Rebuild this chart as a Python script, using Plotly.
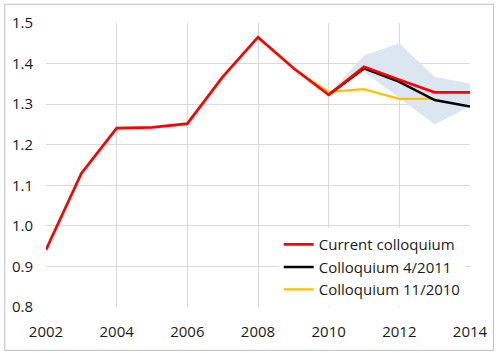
import plotly.graph_objects as go

years = list(range(2002, 2015))
current = [0.941, 1.129, 1.241, 1.243, 1.252, 1.367, 1.465, 1.389, 1.323, 1.392, 1.360, 1.329, 1.329]

years_apr11 = [2010, 2011, 2012, 2013, 2014]
apr11 = [1.323, 1.388, 1.355, 1.310, 1.294]

years_nov10 = [2009, 2010, 2011, 2012, 2013]
nov10 = [1.387, 1.330, 1.337, 1.313, 1.313]

band_years = [2010, 2011, 2012, 2013, 2014]
band_upper = [1.323, 1.420, 1.450, 1.367, 1.351]
band_lower = [1.323, 1.380, 1.315, 1.250, 1.294]

fig = go.Figure()
fig.add_trace(go.Scatter(x=band_years, y=band_lower, mode="lines", line=dict(width=0),
                         showlegend=False, hoverinfo="skip"))
fig.add_trace(go.Scatter(x=band_years, y=band_upper, mode="lines", line=dict(width=0),
                         fill="tonexty", fillcolor="#dce6f1", showlegend=False, hoverinfo="skip"))
fig.add_trace(go.Scatter(x=years_nov10, y=nov10, mode="lines", name="Colloquium 11/2010",
                         line=dict(color="#ffc000", width=2.25), legendrank=3))
fig.add_trace(go.Scatter(x=years_apr11, y=apr11, mode="lines", name="Colloquium 4/2011",
                         line=dict(color="#000000", width=2.5), legendrank=2))
fig.add_trace(go.Scatter(x=years, y=current, mode="lines", name="Current colloquium",
                         line=dict(color="#ff0000", width=2.75), legendrank=1))

W, H = 500, 353
ml, mr, mt, mb = 43, 25, 20, 45
pw, ph = W - ml - mr, H - mt - mb

fig.add_shape(type="rect", xref="paper", yref="paper",
              x0=(-ml + 1) / pw, x1=(pw + mr - 1) / pw,
              y0=(-mb + 1) / ph, y1=(ph + mt - 1) / ph,
              line=dict(color="#bfbfbf", width=1), layer="below")

fig.update_layout(
    width=W, height=H,
    margin=dict(l=ml, r=mr, t=mt, b=mb),
    paper_bgcolor="white", plot_bgcolor="white",
    font=dict(family="Open Sans, Liberation Sans, sans-serif", size=15, color="#1a1a1a"),
    xaxis=dict(range=[2002, 2014], tickvals=[2002, 2004, 2006, 2008, 2010, 2012, 2014],
               showgrid=True, gridcolor="#d9d9d9", gridwidth=1, zeroline=False,
               showline=False, ticks="", ticklabelstandoff=14),
    yaxis=dict(range=[0.8, 1.5], tickvals=[0.8, 0.9, 1.0, 1.1, 1.2, 1.3, 1.4, 1.5],
               ticktext=["0.8", "0.9", "1.0", "1.1", "1.2", "1.3", "1.4", "1.5"],
               showgrid=True, gridcolor="#d9d9d9", gridwidth=1, zeroline=False,
               showline=False, ticks="", ticklabelstandoff=12),
    legend=dict(x=0.99, y=0.003, xanchor="right", yanchor="bottom",
                bgcolor="white", borderwidth=0, font=dict(size=15),
                traceorder="normal", tracegroupgap=0, itemwidth=30),
    showlegend=True,
)

fig.write_html("out.html")
